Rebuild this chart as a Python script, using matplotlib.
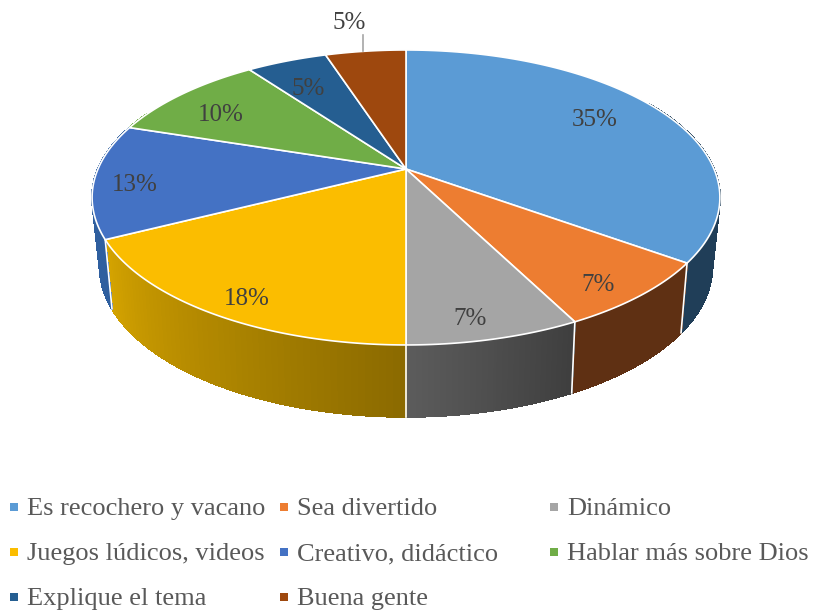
import numpy as np
import matplotlib
matplotlib.use('Agg')
from matplotlib import pyplot as plt
from matplotlib.collections import PolyCollection
from matplotlib.colors import to_rgb
from matplotlib.patches import Polygon, Rectangle

categories = ['Es recochero y vacano', 'Sea divertido', 'Dinámico',
              'Juegos lúdicos, videos', 'Creativo, didáctico', 'Hablar más sobre Dios',
              'Explique el tema', 'Buena gente']
values = [35, 7.5, 7.5, 17.5, 12.5, 10, 5, 5]
value_labels = ['35%', '7%', '7%', '18%', '13%', '10%', '5%', '5%']

colors = ['#5B9BD5', '#ED7D31', '#A5A5A5', '#FBBD00', '#4472C4', '#70AD47', '#255E91', '#9E480E']
# wall colours, left and right end of the shading (seen from the front)
wall_colors = [('#203E58', '#203E58'), ('#5F3013', '#5F3013'), ('#5C5C5C', '#3E3E3E'),
               ('#D4A300', '#8B6A00'), ('#2F5F9F', '#2F5F9F'), ('#70AD47', '#70AD47'),
               ('#255E91', '#255E91'), ('#9E480E', '#9E480E')]
label_xy = [(595, 120), (598, 285), (470, 319), (247, 299),
            (135, 185), (221, 115), (308, 89), (349, 23)]
legend_x = [10, 280, 550]
legend_y = [509, 554, 599]

text_color = '#404040'
legend_color = '#595959'
font = 'Liberation Serif'


def top_rim(theta):
    # perspective view of the upper disc, theta clockwise from 12 o'clock
    x, y = np.sin(theta), np.cos(theta)
    den = 1 + 0.193 * y
    return 406 + 308 * x / den, 169 - 142 * y / den


def low_rim(theta):
    x, y = np.sin(theta), np.cos(theta)
    den = 1 + 0.2 * y
    return 406 + 300 * x / den, 237 - 143.8 * y / den


fig = plt.figure(figsize=(8.14, 6.10), dpi=100)
ax = fig.add_axes([0, 0, 1, 1])
ax.set_xlim(0, 814)
ax.set_ylim(610, 0)
ax.axis('off')

edges = np.deg2rad(np.cumsum([0] + values) * 3.6)

# side walls first, the top disc hides what is behind
for i in range(len(values)):
    start = max(edges[i], np.deg2rad(60))
    stop = min(edges[i + 1], np.deg2rad(295))
    if stop <= start:
        continue
    th = np.linspace(start, stop, 60)
    ux, uy = top_rim(th)
    lx, ly = low_rim(th)
    c_left, c_right = [np.array(to_rgb(c)) for c in wall_colors[i]]
    # flat colour for one outline so the outer edge stays smooth
    outline = np.column_stack([np.r_[ux, lx[::-1]], np.r_[uy, ly[::-1]]])
    ax.add_patch(Polygon(outline, closed=True, facecolor=(c_left + c_right) / 2, edgecolor='none', zorder=2))
    quads = []
    cols = []
    for j in range(len(th) - 1):
        quads.append([(ux[j], uy[j]), (ux[j + 1], uy[j + 1]), (lx[j + 1], ly[j + 1]), (lx[j], ly[j])])
        # theta runs right to left along the front
        f = j / (len(th) - 2)
        cols.append(c_right + (c_left - c_right) * f)
    ax.add_collection(PolyCollection(quads, facecolors=cols, edgecolors=cols, linewidths=0.8,
                                     antialiaseds=False, zorder=2))

for i in [0, 1, 2, 3]:
    ux, uy = top_rim(edges[i + 1])
    lx, ly = low_rim(edges[i + 1])
    ax.plot([ux, lx], [uy, ly], color='white', lw=1.2, zorder=3)

# top disc
for i in range(len(values)):
    th = np.linspace(edges[i], edges[i + 1], 100)
    ux, uy = top_rim(th)
    pts = np.column_stack([np.r_[406, ux], np.r_[169, uy]])
    ax.add_patch(Polygon(pts, closed=True, facecolor=colors[i], edgecolor='white', lw=1.2, zorder=4))

for lab, (x, y) in zip(value_labels, label_xy):
    ax.text(x, y, lab, ha='center', va='center', fontsize=18, family=font, color=text_color, zorder=6)

# leader line of the last label
ax.plot([363, 363], [35, 51], color='#A6A6A6', lw=1.2, zorder=5)

# legend, filled row by row
for i, name in enumerate(categories):
    r, c = divmod(i, 3)
    ax.add_patch(Rectangle((legend_x[c], legend_y[r] - 6), 8, 8, facecolor=colors[i], edgecolor='none'))
    ax.text(legend_x[c] + 17, legend_y[r], name, ha='left', va='center', fontsize=19,
            family=font, color=legend_color)

fig.savefig('out.png', dpi=100)
